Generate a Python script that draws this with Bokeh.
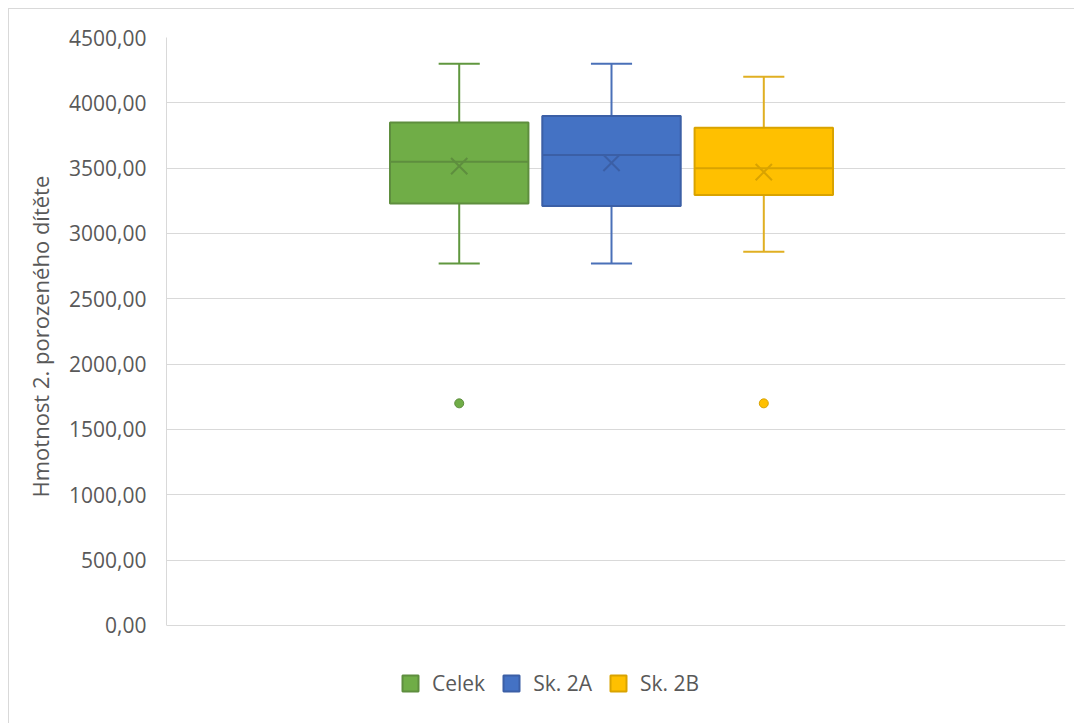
from bokeh.plotting import figure
from bokeh.models import Range1d, Legend, LegendItem, CustomJSTickFormatter, FixedTicker, Title
from bokeh.embed import file_html
from bokeh.resources import INLINE

# Birth weight of the second child (g), summary per group
series = ["Celek", "Sk. 2A", "Sk. 2B"]
whisker_low = [2770, 2770, 2860]
q1 = [3230, 3210, 3295]
median = [3550, 3600, 3500]
q3 = [3850, 3900, 3810]
whisker_high = [4300, 4300, 4200]
mean = [3515, 3540, 3470]
outliers = [1700, None, 1700]

y_ticks = [0, 500, 1000, 1500, 2000, 2500, 3000, 3500, 4000, 4500]
y_title = "Hmotnost 2. porozeného dítěte"

fill_colors = ["#70AD47", "#4472C4", "#FFC000"]
edge_colors = ["#5E8E3E", "#3B5FA6", "#D9A300"]
whisker_colors = ["#60973F", "#4A70B8", "#E0AF22"]

FONT = "Open Sans"
TEXT = "#595959"
GRID = "#D9D9D9"

# the frame reaches down to the bottom edge; the space under 0 holds the legend
legend_room = -758

p = figure(
    width=1066, height=715,
    output_backend="svg", toolbar_location=None,
    x_range=Range1d(-1.922, 3.981), y_range=Range1d(legend_room, y_ticks[-1]),
    x_axis_type=None,
    min_border_left=157, min_border_right=10, min_border_top=28, min_border_bottom=0,
    margin=(8, 0, 0, 8),
    styles={"border-top": "1px solid #D9D9D9", "border-left": "1px solid #D9D9D9"},
)
p.outline_line_color = None
p.xgrid.visible = False
p.ygrid.grid_line_color = GRID
p.ygrid.grid_line_width = 1

yax = p.yaxis[0]
yax.bounds = (y_ticks[0], y_ticks[-1])
yax.ticker = FixedTicker(ticks=y_ticks)
yax.formatter = CustomJSTickFormatter(code="return tick.toFixed(2).replace('.', ',');")
yax.axis_line_color = GRID
yax.major_tick_line_color = None
yax.minor_tick_line_color = None
yax.major_label_text_font = FONT
yax.major_label_text_font_size = "21px"
yax.major_label_text_color = TEXT
yax.major_label_standoff = 14

# axis title, placed beside the 0..4500 span rather than the whole frame
p.add_layout(Title(text=y_title, align="left", offset=227, standoff=24,
                   text_font=FONT, text_font_size="22px", text_font_style="normal",
                   text_color=TEXT), "left")

box_w = 0.909
cap_w = 0.27
items = []
for i, name in enumerate(series):
    x = i
    # whiskers
    p.segment(x0=[x, x], y0=[q3[i], q1[i]], x1=[x, x], y1=[whisker_high[i], whisker_low[i]],
              line_color=whisker_colors[i], line_width=2)
    p.segment(x0=[x - cap_w / 2, x - cap_w / 2], y0=[whisker_high[i], whisker_low[i]],
              x1=[x + cap_w / 2, x + cap_w / 2], y1=[whisker_high[i], whisker_low[i]],
              line_color=whisker_colors[i], line_width=2)
    # box
    box = p.quad(left=[x - box_w / 2], right=[x + box_w / 2], bottom=[q1[i]], top=[q3[i]],
                 fill_color=fill_colors[i], line_color=edge_colors[i], line_width=2)
    # median
    p.segment(x0=[x - box_w / 2], y0=[median[i]], x1=[x + box_w / 2], y1=[median[i]],
              line_color=edge_colors[i], line_width=2)
    # mean
    p.scatter(x=[x], y=[mean[i]], marker="x", size=23, line_color=edge_colors[i], line_width=2)
    # outliers
    if outliers[i] is not None:
        p.scatter(x=[x], y=[outliers[i]], marker="circle", size=9,
                  fill_color=fill_colors[i], line_color=edge_colors[i], line_width=1)
    items.append(LegendItem(label=name, renderers=[box]))

legend = Legend(
    items=items, orientation="horizontal", location=(234, 27),
    label_text_font=FONT, label_text_font_size="21px", label_text_color=TEXT,
    glyph_width=20, glyph_height=20, label_standoff=12, spacing=16,
    padding=0, margin=0, border_line_color=None, background_fill_alpha=0,
)
p.add_layout(legend, "center")

open("out.html", "w").write(file_html(p, INLINE))
